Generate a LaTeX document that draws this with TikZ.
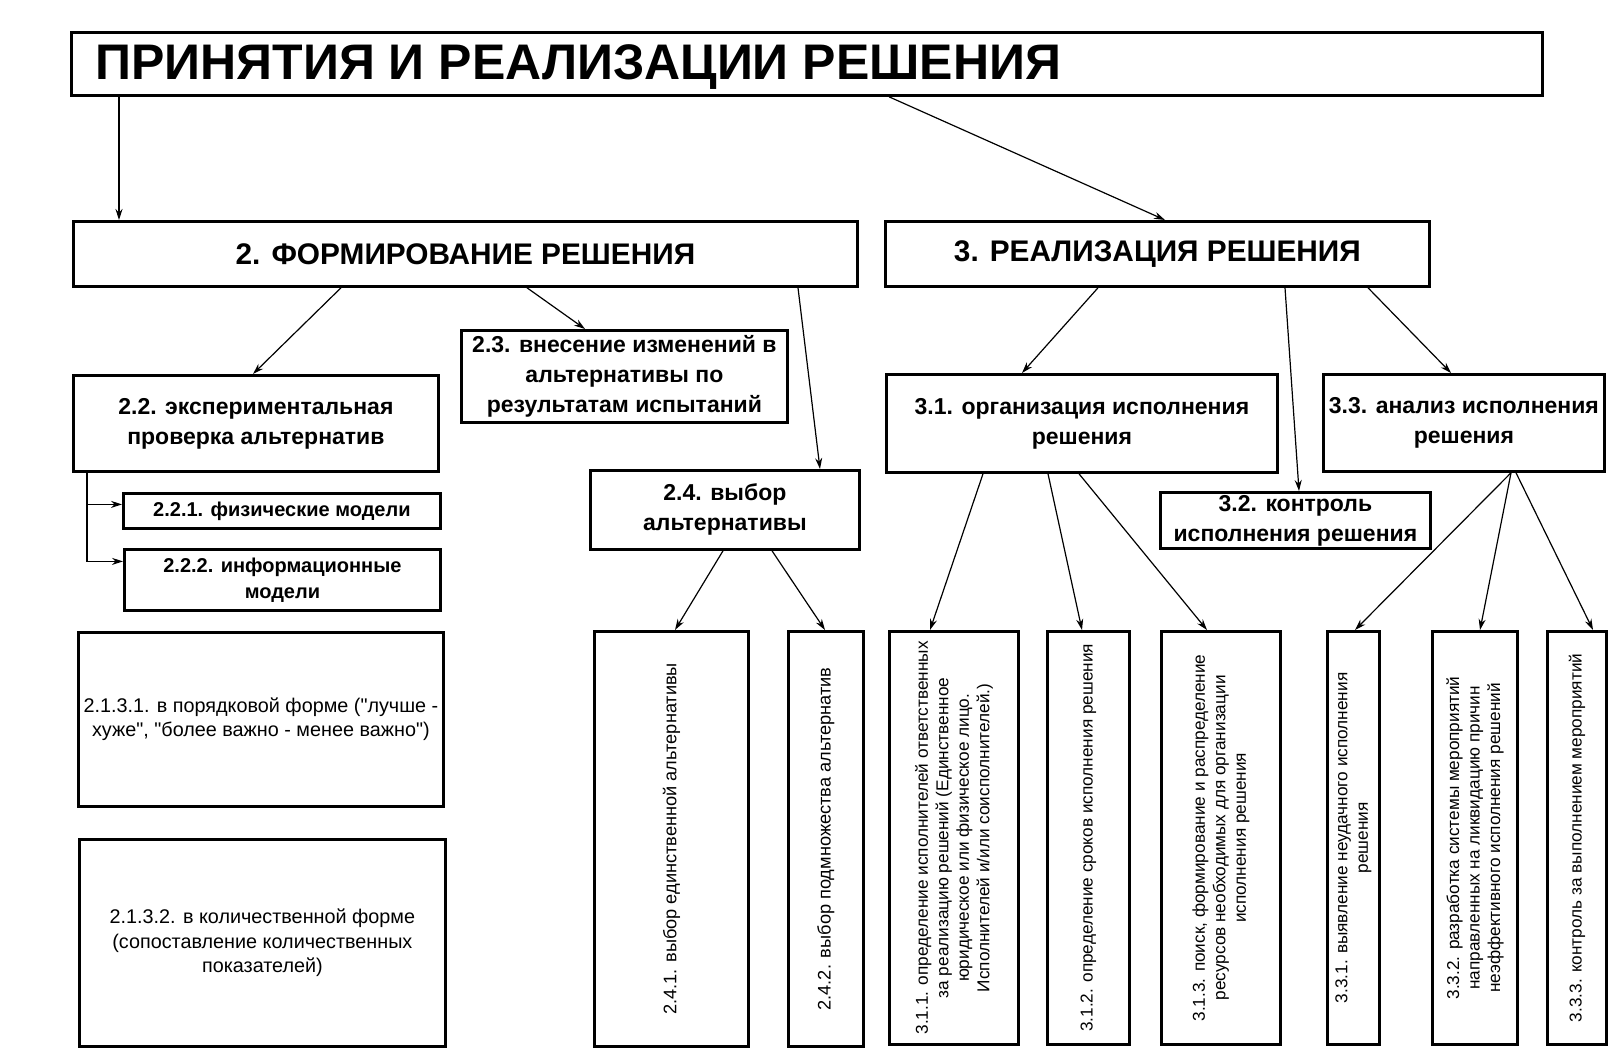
\documentclass[tikz,border=0pt]{standalone}
\usepackage{fontspec}
\setmainfont{Liberation Sans}[Ligatures=TeXOff]
\usetikzlibrary{arrows.meta}

\begin{document}
\begin{tikzpicture}[
  x=1pt, y=-1pt,
  >={Stealth[length=11pt,width=7pt]},
  box/.style={draw=black, line width=2.8pt, anchor=north west, align=center, inner sep=0pt, font=\bfseries\fontsize{23}{30}\selectfont},
  headbox/.style={box, font=\bfseries\fontsize{29.8}{34}\selectfont},
  subbox/.style={box, font=\bfseries\fontsize{20}{26}\selectfont},
  plainbox/.style={box, font=\fontsize{19.8}{24.5}\selectfont},
  tallbox/.style={box, minimum height=413pt},
  vtxt/.style={rotate=90, align=center, inner sep=0pt, font=\fontsize{17.2}{20.5}\selectfont},
  link/.style={->, line width=1.2pt}
]

\path[fill=white, use as bounding box] (0,0) rectangle (1621,1056);

% Title
\node[box, minimum width=1471pt, minimum height=63pt] (title) at (70,31) {};
\node[anchor=base west, inner sep=0pt, font=\bfseries\fontsize{50}{60}\selectfont] (ttl) at (95,80) {ПРИНЯТИЯ И РЕАЛИЗАЦИИ РЕШЕНИЯ};

% Level 2 / 3
\node[headbox, minimum width=784pt, minimum height=65pt] (form) at (72,220) {2. ФОРМИРОВАНИЕ РЕШЕНИЯ};
\node[headbox, minimum width=544pt, minimum height=65pt] (real) at (884,220) {3. РЕАЛИЗАЦИЯ РЕШЕНИЯ};

% Forming branch
\node[box, minimum width=365pt, minimum height=96pt] (b22) at (72,374) {2.2. экспериментальная\\проверка альтернатив};
\node[box, minimum width=326pt, minimum height=92pt] (b23) at (460,329) {2.3. внесение изменений в\\альтернативы по\\результатам испытаний};
\node[box, minimum width=269pt, minimum height=79pt] (b24) at (589,469) {2.4. выбор\\альтернативы};
\node[subbox, minimum width=317pt, minimum height=35pt] (b221) at (122,492) {2.2.1. физические модели};
\node[subbox, minimum width=316pt, minimum height=61pt] (b222) at (123,548) {2.2.2. информационные\\модели};
\node[plainbox, minimum width=365pt, minimum height=174pt] (b2131) at (77,631) {2.1.3.1. в порядковой форме ("лучше -\\хуже", "более важно - менее важно")};
\node[plainbox, minimum width=366pt, minimum height=207pt] (b2132) at (78,838) {2.1.3.2. в количественной форме\\(сопоставление количественных\\показателей)};
\node[tallbox, minimum width=154pt, minimum height=415pt] (b241) at (593,630) {};
\node[tallbox, minimum width=75pt, minimum height=415pt] (b242) at (787,630) {};

% Realisation branch
\node[box, minimum width=391pt, minimum height=98pt] (b31) at (885,373) {3.1. организация исполнения\\решения};
\node[box, minimum width=270pt, minimum height=56pt] (b32) at (1159,491) {3.2. контроль\\исполнения решения};
\node[box, minimum width=281pt, minimum height=97pt] (b33) at (1322,373) {3.3. анализ исполнения\\решения};
\node[tallbox, minimum width=129pt] (b311) at (888,630) {};
\node[tallbox, minimum width=82pt] (b312) at (1046,630) {};
\node[tallbox, minimum width=119pt] (b313) at (1160,630) {};
\node[tallbox, minimum width=52pt] (b331) at (1326,630) {};
\node[tallbox, minimum width=85pt] (b332) at (1431,630) {};
\node[tallbox, minimum width=59pt] (b333) at (1546,630) {};

% Vertical texts
\node[vtxt, font=\fontsize{18.2}{21}\selectfont] (t241) at (b241.center) {2.4.1. выбор единственной альтернативы};
\node[vtxt, font=\fontsize{18.2}{21}\selectfont] (t242) at (b242.center) {2.4.2. выбор подмножества альтернатив};
\node[vtxt] (t311) at (b311.center) {3.1.1. определение исполнителей ответственных\\за реализацию решений (Единственное\\юридическое или физическое лицо.\\Исполнителей и/или соисполнителей.)};
\node[vtxt] (t312) at (b312.center) {3.1.2. определение сроков исполнения решения};
\node[vtxt] (t313) at (b313.center) {3.1.3. поиск, формирование и распределение\\ресурсов необходимых для организации\\исполнения решения};
\node[vtxt] (t331) at (b331.center) {3.3.1. выявление неудачного исполнения\\решения};
\node[vtxt] (t332) at (b332.center) {3.3.2. разработка системы мероприятий\\направленных на ликвидацию причин\\неэффективного исполнения решений};
\node[vtxt] (t333) at (b333.center) {3.3.3. контроль за выполнением мероприятий};

% Connections
\draw[link] ([xshift=49pt]title.south west) -- ([xshift=47pt]form.north west);
\draw[link] ([xshift=819pt]title.south west) -- ([xshift=281pt]real.north west);

\draw[link] ([xshift=269pt]form.south west) -- ([xshift=181pt]b22.north west);
\draw[link] ([xshift=455pt]form.south west) -- ([xshift=125pt]b23.north west);
\draw[link] ([xshift=726pt]form.south west) -- ([xshift=231pt]b24.north west);
\draw[link] ([xshift=15pt]b22.south west) |- ([yshift=6.5pt]b221.west);
\draw[link] ([xshift=15pt]b22.south west) |- ([yshift=18.5pt]b222.west);
\draw[link] ([xshift=134pt]b24.south west) -- ([xshift=82pt]b241.north west);
\draw[link] ([xshift=183pt]b24.south west) -- ([xshift=38pt]b242.north west);

\draw[link] ([xshift=214pt]real.south west) -- ([xshift=137pt]b31.north west);
\draw[link] ([xshift=401pt]real.south west) -- ([xshift=140pt]b32.north west);
\draw[link] ([xshift=484pt]real.south west) -- ([xshift=129pt]b33.north west);
\draw[link] ([xshift=98pt]b31.south west) -- ([xshift=42pt]b311.north west);
\draw[link] ([xshift=163pt]b31.south west) -- ([xshift=36pt]b312.north west);
\draw[link] ([xshift=194pt]b31.south west) -- ([xshift=47pt]b313.north west);
\draw[link] ([xshift=189pt]b33.south west) -- ([xshift=29pt]b331.north west);
\draw[link] ([xshift=189pt]b33.south west) -- ([xshift=49pt]b332.north west);
\draw[link] ([xshift=194pt]b33.south west) -- ([xshift=47pt]b333.north west);

\end{tikzpicture}
\end{document}
